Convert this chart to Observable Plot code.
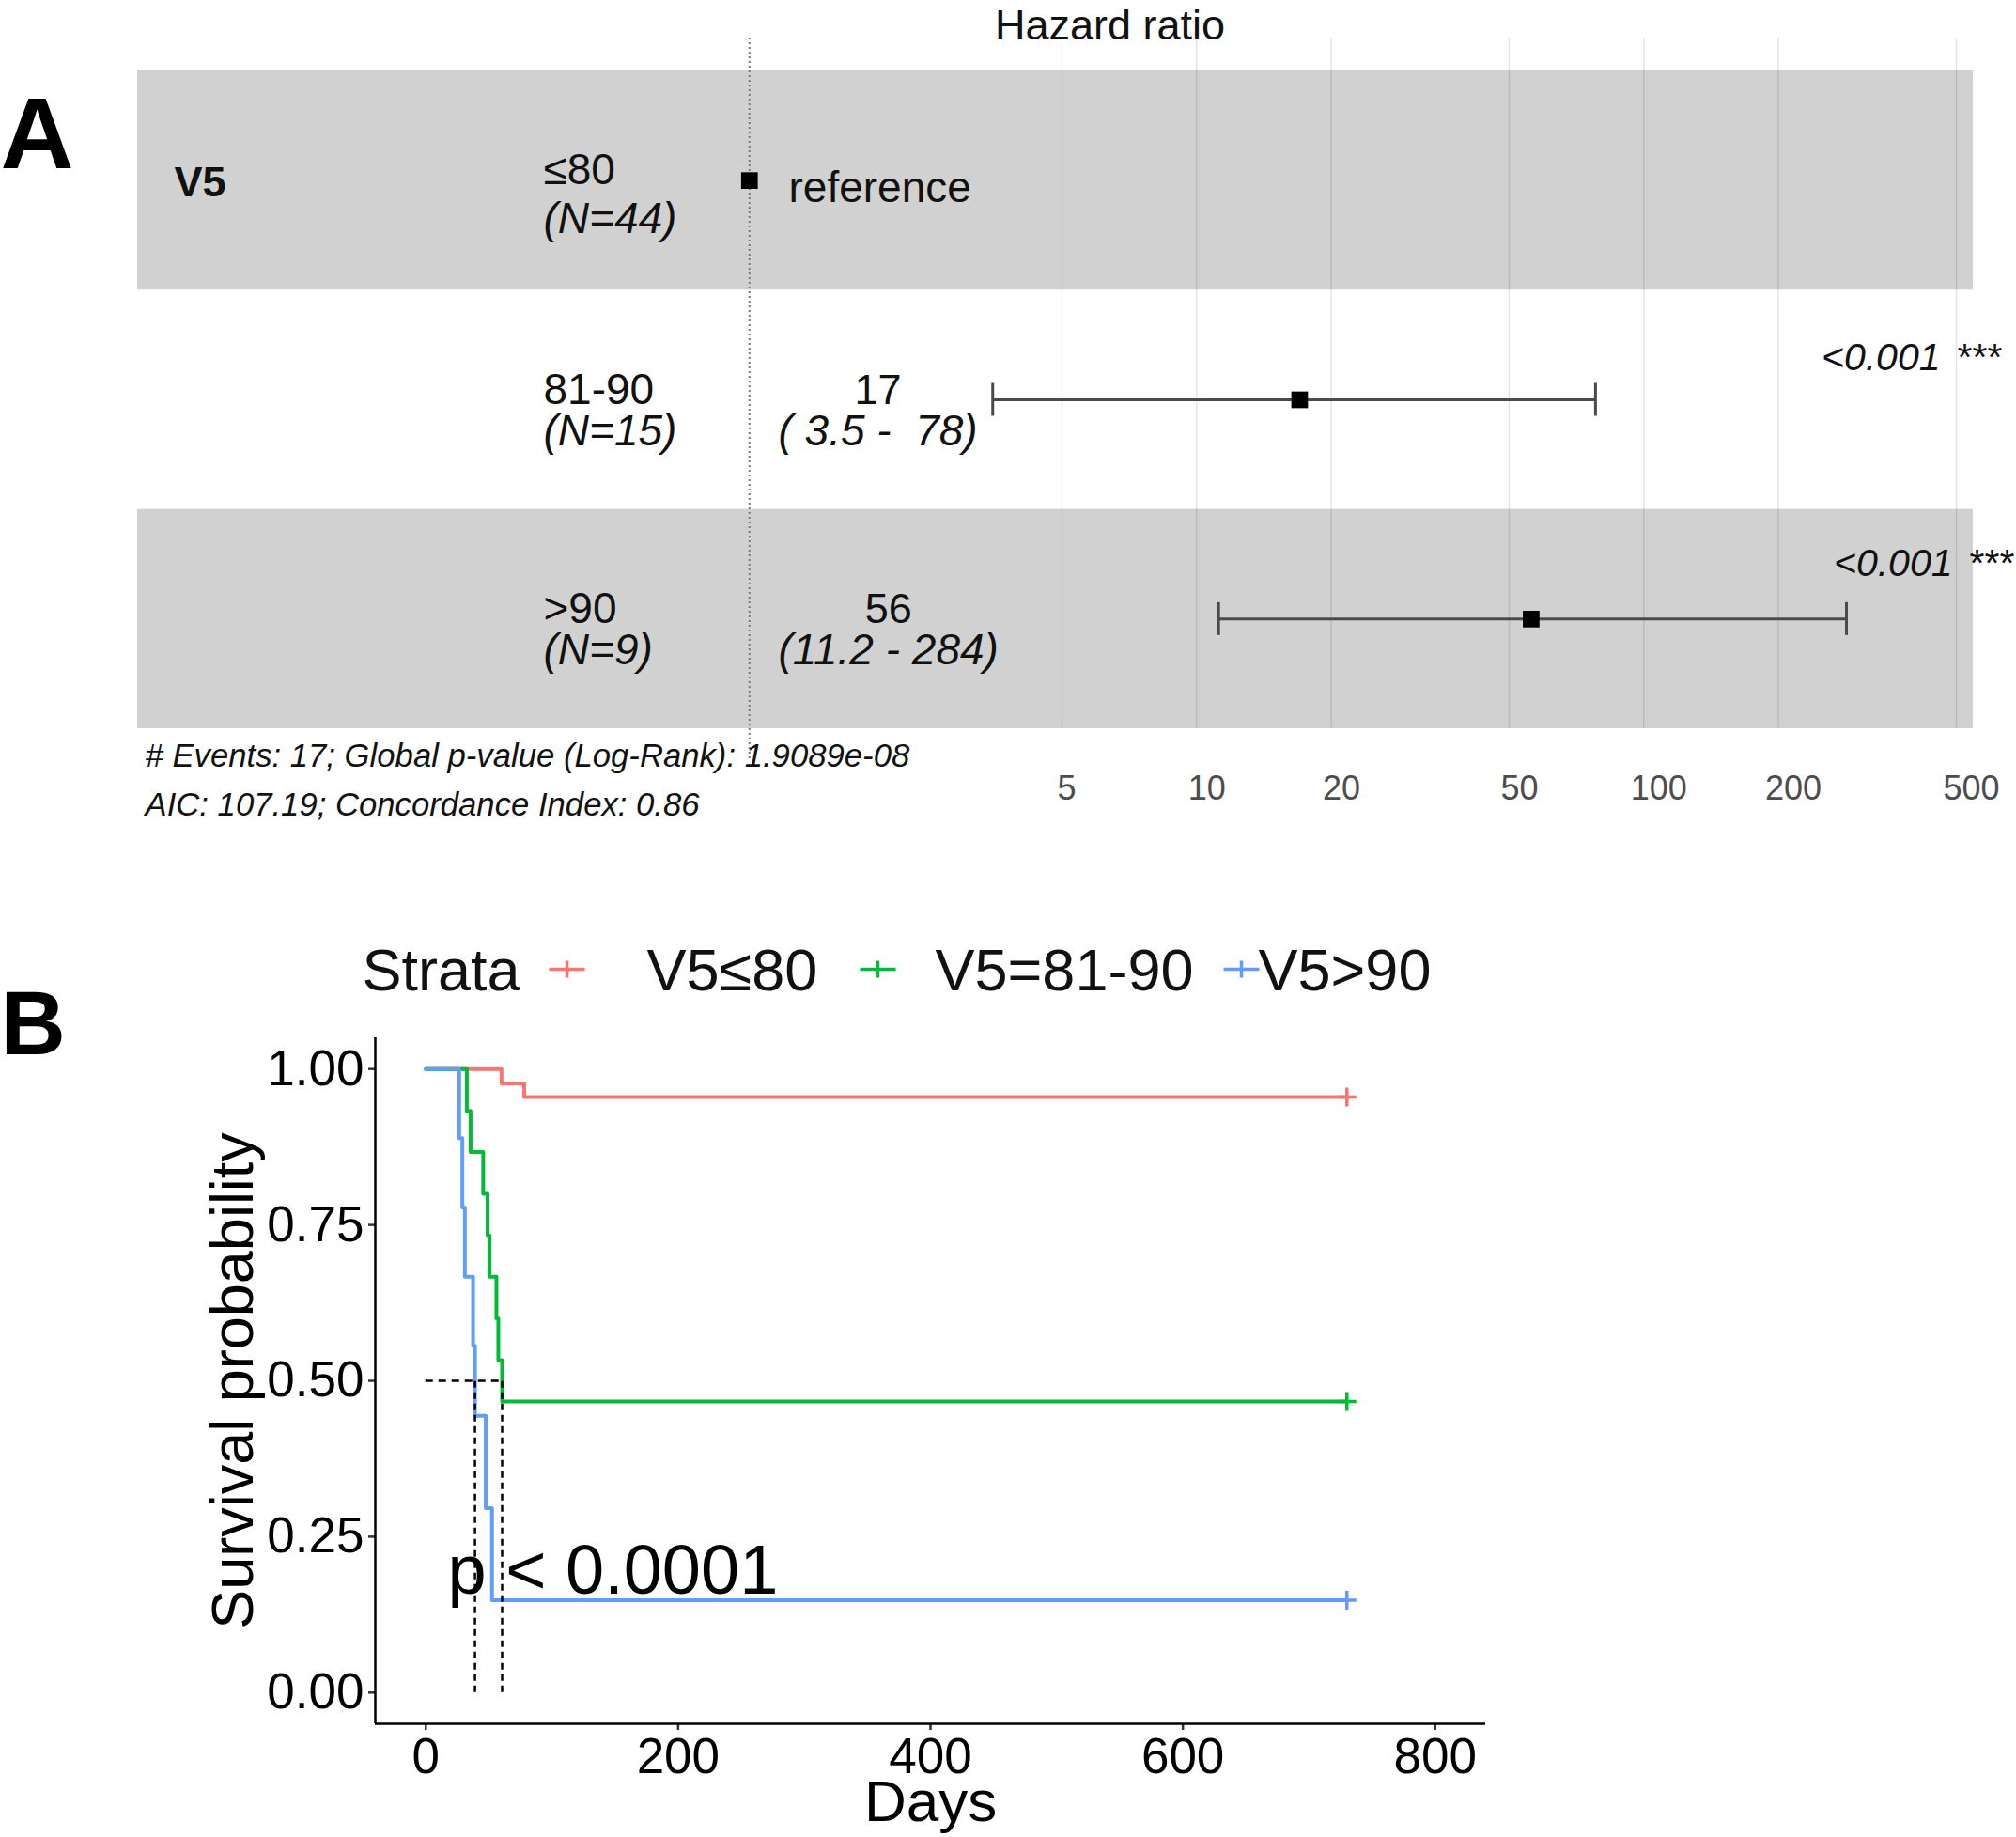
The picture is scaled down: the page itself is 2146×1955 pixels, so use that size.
<!DOCTYPE html>
<html>
<head>
<meta charset="utf-8">
<script src="https://cdn.jsdelivr.net/npm/d3@7"></script>
<script src="https://cdn.jsdelivr.net/npm/@observablehq/plot@0.6"></script>
<style>
html, body { margin: 0; padding: 0; background: #fff; }
#root { position: relative; width: 2146px; height: 1955px; overflow: hidden; background: #fff; }
#root svg { position: absolute; left: 0; overflow: visible; font-family: "Liberation Sans", Arial, sans-serif; }
#root svg text { white-space: pre; }
</style>
</head>
<body>
<div id="root"></div>
<script>
// ---------------- Panel A: forest plot data ----------------
const variableName = "V5";
const levels = ["≤80", "81-90", ">90"];
const counts = [44, 15, 9];
const hr = [1, 17, 56];
const hrLow = [null, 3.5, 11.2];
const hrHigh = [null, 78, 284];
const hrLabel = ["reference", "17", "56"];
const ciLabel = ["", "( 3.5 -  78)", "(11.2 - 284)"];
const pLabel = ["", "<0.001", "<0.001"];
const sigLabel = ["", "***", "***"];
const hrTicks = [5, 10, 20, 50, 100, 200, 500];
const hrTitle = "Hazard ratio";
const footnotes = [
  "# Events: 17; Global p-value (Log-Rank): 1.9089e-08",
  "AIC: 107.19; Concordance Index: 0.86"
];

// ---------------- Panel B: Kaplan-Meier data ----------------
const strata = ["V5≤80", "V5=81-90", "V5>90"];
const stratumColors = ["#F8766D", "#00BA38", "#619CFF"];
const timesLow = [0, 60, 78, 730];
const survLow = [1, 0.977, 0.955, 0.955];
const timesMid = [0, 32.5, 35.5, 45.5, 49, 50.5, 56, 57.5, 60.5, 730];
const survMid = [1, 0.933, 0.867, 0.8, 0.733, 0.667, 0.6, 0.533, 0.467, 0.467];
const timesHigh = [0, 26.5, 29, 31, 37.5, 39, 47.5, 52.5, 730];
const survHigh = [1, 0.889, 0.778, 0.667, 0.556, 0.444, 0.296, 0.148, 0.148];
const censorDays = [730, 730, 730];
const medianDays = [39, 60.5];
const dayTicks = [0, 200, 400, 600, 800];
const survTicks = [0, 0.25, 0.5, 0.75, 1];
const pValueText = "p < 0.0001";
const legendTitle = "Strata";
const xTitle = "Days";
const yTitle = "Survival probability";

// ---------------- helpers ----------------
const W = 2146;
const INK = "#111";
const FONT = '"Liberation Sans", Arial, sans-serif';
const root = document.getElementById("root");

const ctx = document.createElement("canvas").getContext("2d");
function textWidth(s, font) { ctx.font = font; return ctx.measureText(s).width; }

// pixel-placed label inside a plot (layout text, not data)
function label(frame, s, px, py, opts = {}) {
  return Plot.text([s], {
    frameAnchor: "top-left",
    dx: px - frame.left,
    dy: py - frame.top,
    lineAnchor: "bottom",
    textAnchor: "start",
    fill: INK,
    ...opts
  });
}

// ================= PANEL A =================
const fA = {top: 40, bottom: 775, left: 146, right: 2100, height: 900};
const xDomainA = [0.04283, 545.6];
const yDomainA = [0.35, 3.5];
const rows = levels.map((l, i) => ({
  row: i + 1, level: l, n: `(N=${counts[i]})`, hr: hr[i], lo: hrLow[i], hi: hrHigh[i],
  est: hrLabel[i], ci: ciLabel[i], p: pLabel[i], sig: sigLabel[i]
}));
const ciRows = rows.filter(d => d.lo != null);

const colVar = 185, colLevel = 578, colEst = 828, colRef = 839;
const ciFont = `italic 46px ${FONT}`;
// layout (pixel) offsets of the p-value text per row: [end x of "<0.001", baseline offset]
const pLayout = {2: [2065, -32], 3: [2078, -46]};

const estMarks = ciRows.map(d => {
  const w = textWidth(d.ci, ciFont);
  return Plot.text([d], {
    y: "row", text: "est", frameAnchor: "left", dx: colEst - fA.left + w / 2, dy: 4,
    lineAnchor: "bottom", textAnchor: "middle", fontSize: 45, fill: INK
  });
});
const pMarks = ciRows.flatMap(d => {
  const [xe, oy] = pLayout[d.row];
  return [
    Plot.text([d], {y: "row", text: "p", frameAnchor: "right", dx: xe - fA.right, dy: oy, lineAnchor: "bottom", textAnchor: "end", fontSize: 41, fontStyle: "italic", fill: INK}),
    Plot.text([d], {y: "row", text: "sig", frameAnchor: "right", dx: xe + 18 - fA.right, dy: oy, lineAnchor: "bottom", textAnchor: "start", fontSize: 41, fill: INK})
  ];
});
const tickLabelMarks = [[1, 5], [2, 11], [3, 16]].map(([len, off]) =>
  Plot.text(hrTicks.filter(t => `${t}`.length === len), {
    x: d => d, text: d => `${d}`, frameAnchor: "bottom", dx: off, dy: 850 - fA.bottom,
    lineAnchor: "bottom", textAnchor: "middle", fontSize: 36, fill: "#4d4d4d"
  })
);

const plotA = Plot.plot({
  width: W,
  height: fA.height,
  marginTop: fA.top,
  marginBottom: fA.height - fA.bottom,
  marginLeft: fA.left,
  marginRight: W - fA.right,
  x: {type: "log", domain: xDomainA, axis: null, label: null},
  y: {domain: yDomainA, reverse: true, axis: null, label: null},
  style: {fontFamily: FONT, background: "transparent"},
  marks: [
    Plot.rect(rows.filter(d => d.row % 2 === 1), {
      x1: () => xDomainA[0], x2: () => xDomainA[1],
      y1: d => d.row - 0.5, y2: d => d.row + 0.5, fill: "#d1d1d1"
    }),
    Plot.ruleX(hrTicks, {x: d => d, y1: () => yDomainA[0], y2: () => yDomainA[1], stroke: "#000", strokeOpacity: 0.1, strokeWidth: 1.5}),
    Plot.ruleX([1], {x: d => d, y1: () => yDomainA[0], y2: () => 3.64, stroke: "#7a7a7a", strokeWidth: 2, strokeDasharray: "2,3"}),
    Plot.ruleY(ciRows, {y: "row", x1: "lo", x2: "hi", stroke: "#4a4a4a", strokeWidth: 3}),
    Plot.ruleX(ciRows, {x: "lo", y1: d => d.row - 0.075, y2: d => d.row + 0.075, stroke: "#4a4a4a", strokeWidth: 3}),
    Plot.ruleX(ciRows, {x: "hi", y1: d => d.row - 0.075, y2: d => d.row + 0.075, stroke: "#4a4a4a", strokeWidth: 3}),
    Plot.dot(rows, {x: "hr", y: "row", symbol: "square", r: 10, fill: "#000", stroke: "none"}),
    ...tickLabelMarks,
    // table columns
    Plot.text([rows[0]], {y: "row", text: () => variableName, frameAnchor: "left", dx: colVar - fA.left, dy: 2, lineAnchor: "middle", fontSize: 45, fontWeight: "bold", fill: INK}),
    Plot.text(rows, {y: "row", text: "level", frameAnchor: "left", dx: colLevel - fA.left, dy: 4, lineAnchor: "bottom", textAnchor: "start", fontSize: 46, fill: INK}),
    Plot.text(rows.filter(d => d.row === 1), {y: "row", text: "n", frameAnchor: "left", dx: colLevel - fA.left, dy: 56, lineAnchor: "bottom", textAnchor: "start", fontSize: 46, fontStyle: "italic", fill: INK}),
    Plot.text(rows.filter(d => d.row !== 1), {y: "row", text: "n", frameAnchor: "left", dx: colLevel - fA.left, dy: 48, lineAnchor: "bottom", textAnchor: "start", fontSize: 46, fontStyle: "italic", fill: INK}),
    Plot.text(rows.filter(d => d.lo == null), {y: "row", text: "est", frameAnchor: "left", dx: colRef - fA.left, dy: 23, lineAnchor: "bottom", textAnchor: "start", fontSize: 46, fill: INK}),
    ...estMarks,
    Plot.text(ciRows, {y: "row", text: "ci", frameAnchor: "left", dx: colEst - fA.left, dy: 48, lineAnchor: "bottom", textAnchor: "start", fontSize: 46, fontStyle: "italic", fill: INK}),
    ...pMarks,
    // titles / notes
    label(fA, hrTitle, 1181, 41, {textAnchor: "middle", fontSize: 45}),
    label(fA, footnotes[0], 154, 815, {fontSize: 34.7, fontStyle: "italic"}),
    label(fA, footnotes[1], 154, 867, {fontSize: 34.7, fontStyle: "italic"}),
    label(fA, "A", 0, 178, {fontSize: 108, fontWeight: "bold", fill: "#000"})
  ]
});
plotA.style.top = "0px";
root.appendChild(plotA);

// ================= PANEL B =================
const topB = 960;
const fB = {top: 1104 - topB, bottom: 1834 - topB, left: 399, right: 1581, height: 1955 - topB};
const xDomainB = [-40, 840];
const yDomainB = [-0.05, 1.05];

const curves = [[timesLow, survLow], [timesMid, survMid], [timesHigh, survHigh]];
const curveRows = [];
curves.forEach(([t, s], k) => t.forEach((d, i) => curveRows.push({strata: strata[k], time: d, surv: s[i]})));
const censorRows = curves.map(([t, s], k) => ({strata: strata[k], time: censorDays[k], surv: s[s.length - 1]}));

const plusSymbol = {
  draw(c, size) {
    const r = Math.sqrt(size / Math.PI);
    c.moveTo(-r, 0); c.lineTo(r, 0);
    c.moveTo(0, -r); c.lineTo(0, r);
  }
};
const keySymbol = {
  draw(c) {
    c.moveTo(-19, 0); c.lineTo(19, 0);
    c.moveTo(0, -9); c.lineTo(0, 9);
  }
};

const keyCenters = [603, 934, 1321];
const keyLabelsX = [688, 995, 1339];
const legendMarks = [];
strata.forEach((s, k) => {
  legendMarks.push(Plot.dot([s], {
    frameAnchor: "top-left", dx: keyCenters[k] - fB.left, dy: 1031 - 1104,
    symbol: keySymbol, r: 5, fill: "none", stroke: stratumColors[k], strokeWidth: 3.5
  }));
  legendMarks.push(label(fB, s, keyLabelsX[k], 1053 - topB, {fontSize: 63}));
});

const plotB = Plot.plot({
  width: W,
  height: fB.height,
  marginTop: fB.top,
  marginBottom: fB.height - fB.bottom,
  marginLeft: fB.left,
  marginRight: W - fB.right,
  x: {domain: xDomainB, label: null},
  y: {domain: yDomainB, label: null},
  color: {domain: strata, range: stratumColors},
  style: {fontFamily: FONT, background: "transparent"},
  marks: [
    Plot.axisX({ticks: dayTicks, tickSize: 7, tickPadding: 8, fontSize: 53, fill: "#000", stroke: "#333", strokeWidth: 2.5, label: null}),
    Plot.axisY({ticks: survTicks, tickFormat: d3.format(".2f"), tickSize: 7, tickPadding: 5, fontSize: 53, fill: "#000", stroke: "#333", strokeWidth: 2.5, label: null}),
    Plot.ruleX([xDomainB[0]], {x: d => d, y1: () => yDomainB[0], y2: () => yDomainB[1], stroke: "#000", strokeWidth: 2.5}),
    Plot.ruleY([yDomainB[0]], {y: d => d, x1: () => xDomainB[0], x2: () => xDomainB[1], stroke: "#000", strokeWidth: 2.5}),
    Plot.line(curveRows, {x: "time", y: "surv", z: "strata", stroke: "strata", curve: "step-after", strokeWidth: 4}),
    Plot.dot(censorRows, {x: "time", y: "surv", stroke: "strata", symbol: plusSymbol, r: 10, fill: "none", strokeWidth: 3.5}),
    Plot.ruleY([0.5], {y: d => d, x1: () => 0, x2: () => d3.max(medianDays), stroke: "#000", strokeWidth: 2.5, strokeDasharray: "8,6"}),
    Plot.ruleX(medianDays, {x: d => d, y1: () => 0, y2: () => 0.5, stroke: "#000", strokeWidth: 2.5, strokeDasharray: "7,5"}),
    label(fB, pValueText, 476, 1695 - topB, {fontSize: 74, fill: "#000"}),
    Plot.text([xTitle], {frameAnchor: "bottom", dy: 1937 - 1834, lineAnchor: "bottom", textAnchor: "middle", fontSize: 62, fill: "#000"}),
    Plot.text([yTitle], {frameAnchor: "left", dx: 248 - fB.left, rotate: -90, lineAnchor: "middle", textAnchor: "middle", fontSize: 63, fill: "#000"}),
    label(fB, legendTitle, 385, 1053 - topB, {fontSize: 63}),
    ...legendMarks,
    label(fB, "B", 0, 1121 - topB, {fontSize: 96, fontWeight: "bold", fill: "#000"})
  ]
});
plotB.style.top = topB + "px";
root.appendChild(plotB);
</script>
</body>
</html>
